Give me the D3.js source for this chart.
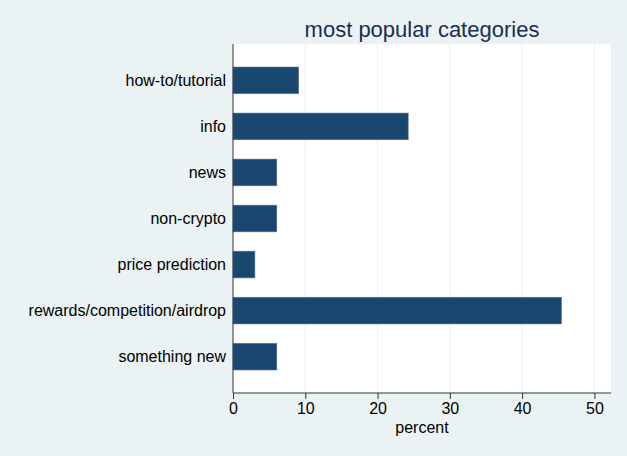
<!DOCTYPE html>
<html>
<head>
<meta charset="utf-8">
<script src="https://cdn.jsdelivr.net/npm/d3@7"></script>
<style>
  body { margin: 0; background: #eaf2f3; }
  text { font-family: "Liberation Sans", Arial, sans-serif; }
</style>
</head>
<body>
<script>
// chart data
var categories = ["how-to/tutorial", "info", "news", "non-crypto",
  "price prediction", "rewards/competition/airdrop", "something new"];
var percents = [9.09, 24.24, 6.06, 6.06, 3.03, 45.45, 6.06];
var xTicks = [0, 10, 20, 30, 40, 50];

var svgWidth = 627;
var svgHeight = 456;

var margin = { top: 44, right: 16, bottom: 63, left: 233 };
var width = svgWidth - margin.left - margin.right;
var height = svgHeight - margin.top - margin.bottom;

var svg = d3.select("body")
  .append("svg")
  .attr("width", svgWidth)
  .attr("height", svgHeight);

svg.append("rect")
  .attr("width", svgWidth)
  .attr("height", svgHeight)
  .attr("fill", "#eaf2f3");

var chartGroup = svg.append("g")
  .attr("transform", `translate(${margin.left}, ${margin.top})`);

// plot region
chartGroup.append("rect")
  .attr("width", width)
  .attr("height", height)
  .attr("fill", "#ffffff");

var xScale = d3.scaleLinear()
  .domain([0, 52.3])
  .range([0, width]);

var yScale = d3.scaleBand()
  .domain(categories)
  .range([0, height])
  .paddingInner(0.42)
  .paddingOuter(0.5);

// gridlines
chartGroup.selectAll(".grid")
  .data(xTicks.slice(1))
  .enter()
  .append("line")
  .attr("x1", d => xScale(d))
  .attr("x2", d => xScale(d))
  .attr("y1", 0)
  .attr("y2", height)
  .attr("stroke", "#eaf2f3")
  .attr("stroke-width", 1);

// bars
chartGroup.selectAll(".bar")
  .data(percents)
  .enter()
  .append("rect")
  .attr("x", 0)
  .attr("y", (d, i) => yScale(categories[i]))
  .attr("width", d => xScale(d))
  .attr("height", yScale.bandwidth())
  .attr("fill", "#1a476f")
  .attr("stroke", "#5a7a99")
  .attr("stroke-width", 0.6);

// x axis
var bottomAxis = d3.axisBottom(xScale)
  .tickValues(xTicks)
  .tickSize(6)
  .tickPadding(4);

var xAxis = chartGroup.append("g")
  .attr("transform", `translate(0, ${height})`)
  .call(bottomAxis);
xAxis.select(".domain").attr("stroke", "#333333").attr("d", `M0,0H${width}`);
xAxis.selectAll(".tick line").attr("stroke", "#333333");
xAxis.selectAll(".tick text")
  .attr("font-size", "16px")
  .attr("fill", "#000000")
  .attr("font-family", "Liberation Sans, Arial, sans-serif");

// y axis
var leftAxis = d3.axisLeft(yScale).tickSize(0).tickPadding(7);
var yAxis = chartGroup.append("g").call(leftAxis);
yAxis.select(".domain").attr("stroke", "#333333").attr("d", `M0,0V${height}`);
yAxis.selectAll(".tick text")
  .attr("font-size", "16px")
  .attr("fill", "#000000")
  .attr("dy", "0.35em")
  .attr("font-family", "Liberation Sans, Arial, sans-serif");

// labels
chartGroup.append("text")
  .attr("x", width / 2)
  .attr("y", height + 40)
  .attr("text-anchor", "middle")
  .attr("font-size", "16px")
  .attr("fill", "#000000")
  .text("percent");

chartGroup.append("text")
  .attr("x", width / 2)
  .attr("y", -7)
  .attr("text-anchor", "middle")
  .attr("font-size", "22px")
  .attr("fill", "#1e2d53")
  .text("most popular categories");
</script>
</body>
</html>
